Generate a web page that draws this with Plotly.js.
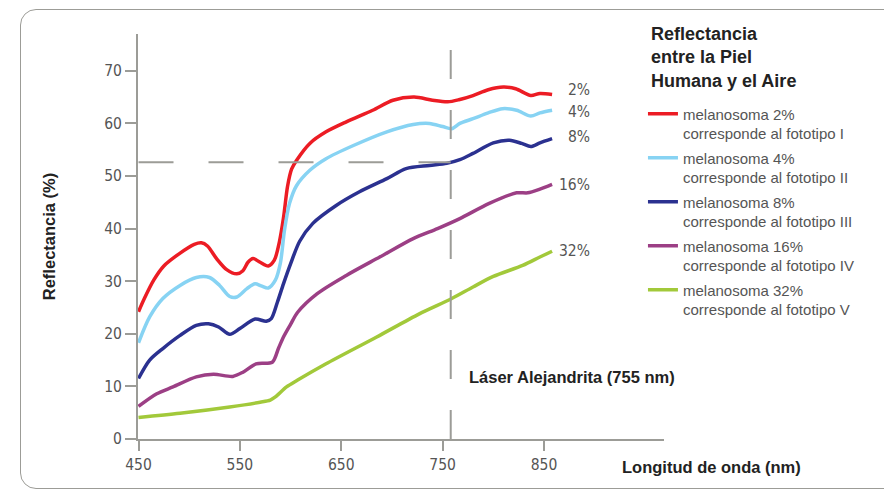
<!DOCTYPE html>
<html>
<head>
<meta charset="utf-8">
<script src="https://cdn.plot.ly/plotly-3.0.1.min.js"></script>
<style>
  html, body { margin: 0; padding: 0; background: #ffffff; }
  #wrap { position: relative; width: 884px; height: 493px; overflow: hidden; }
  #frame { position: absolute; left: 20px; top: 9px; width: 900px; height: 480px;
           border: 1.5px solid #9c9c97; border-radius: 16px; box-sizing: border-box; }
  #chart { position: absolute; left: 0; top: 0; width: 884px; height: 493px; }
</style>
</head>
<body>
<div id="wrap">
  <div id="frame"></div>
  <div id="chart"></div>
</div>
<script>
// ---- Data ----
const wl2  = [450, 456, 465, 475, 490, 505, 512, 518, 527, 537, 547, 553, 558, 563, 570, 578, 584, 589, 593, 597, 601, 606, 619, 635, 655, 681, 701, 722, 740, 755, 766, 780, 795, 810, 822, 837, 846, 858];
const r2   = [24.2, 26.8, 30.2, 32.9, 35.2, 37.0, 37.3, 36.7, 34.3, 32.2, 31.4, 32.0, 33.6, 34.3, 33.6, 32.9, 34.0, 37.5, 42.0, 48.0, 51.3, 53.0, 56.2, 58.4, 60.3, 62.5, 64.4, 65.0, 64.4, 64.1, 64.5, 65.3, 66.4, 66.9, 66.6, 65.3, 65.7, 65.5];

const wl4  = [450, 461, 474, 491, 507, 520, 530, 540, 547, 557, 565, 571, 578, 585, 590, 594, 599, 606, 619, 635, 662, 695, 721, 737, 750, 759, 767, 780, 795, 809, 823, 837, 846, 858];
const r4   = [18.3, 23.2, 26.7, 29.2, 30.7, 30.7, 29.2, 27.1, 27.0, 28.6, 29.5, 29.1, 28.7, 30.2, 33.5, 39.7, 44.8, 48.2, 51.1, 53.3, 55.8, 58.4, 59.8, 60.0, 59.4, 59.0, 60.0, 60.9, 62.0, 62.8, 62.5, 61.4, 62.0, 62.5];

const wl8  = [450, 461, 474, 491, 507, 519, 529, 540, 550, 565, 576, 581, 587, 593, 600, 609, 622, 645, 668, 695, 714, 737, 754, 767, 780, 800, 816, 828, 837, 846, 858];
const r8   = [11.5, 15.0, 17.2, 19.7, 21.6, 21.9, 21.3, 19.9, 21.0, 22.8, 22.4, 22.9, 26.0, 29.5, 33.3, 37.6, 41.0, 44.4, 47.0, 49.5, 51.4, 52.0, 52.4, 53.1, 54.3, 56.3, 56.8, 56.2, 55.6, 56.3, 57.1];

const wl16 = [450, 468, 484, 507, 524, 543, 553, 566, 582, 588, 593, 600, 607, 626, 655, 688, 721, 745, 767, 796, 823, 834, 846, 858];
const r16  = [6.2, 8.6, 9.9, 11.8, 12.3, 11.9, 12.7, 14.3, 14.6, 17.2, 19.4, 21.8, 24.1, 27.6, 31.1, 34.6, 38.1, 40.0, 41.9, 44.8, 46.8, 46.8, 47.5, 48.4];

const wl32 = [450, 491, 540, 570, 580, 585, 596, 607, 635, 685, 727, 759, 780, 800, 829, 846, 858];
const r32  = [4.1, 4.9, 6.1, 7.0, 7.4, 8.0, 9.9, 11.2, 14.3, 19.4, 23.8, 26.7, 28.9, 30.9, 33.0, 34.6, 35.7];

const seriesLabels = ['2%', '4%', '8%', '16%', '32%'];
const legendNames = [
  'melanosoma 2%<br>corresponde al fototipo I',
  'melanosoma 4%<br>corresponde al fototipo II',
  'melanosoma 8%<br>corresponde al fototipo III',
  'melanosoma 16%<br>corresponde al fototipo IV',
  'melanosoma 32%<br>corresponde al fototipo V'
];
const legendTitle = 'Reflectancia<br>entre la Piel<br>Humana y el Aire';
const xTicks = [450, 550, 650, 750, 850];
const yTicks = [0, 10, 20, 30, 40, 50, 60, 70];
const laserNm = 758;          // drawn position of the laser marker line
const laserReflect = 52.6;    // horizontal guide level
const laserLabel = 'Láser Alejandrita (755 nm)';

// ---- Styles ----
const colors = ['#ec1c24', '#87d3f3', '#2b3190', '#9c3f85', '#a2c93a'];
const labelYShift = [4, -2, 2, -1, 0];
const axisColor = '#9c9c97';
const cond = '"DejaVu Sans Condensed", "Liberation Sans Narrow", sans-serif';
const sans = '"Liberation Sans", Arial, sans-serif';

const xs = [wl2, wl4, wl8, wl16, wl32];
const ys = [r2, r4, r8, r16, r32];

const traces = xs.map((x, i) => ({
  type: 'scatter', mode: 'lines',
  x: x, y: ys[i],
  name: legendNames[i],
  legendgroup: 'g' + i,
  line: { color: colors[i], width: 3.5, shape: 'spline', smoothing: 0.8 },
  hoverinfo: 'x+y'
}));

const annotations = xs.map((x, i) => ({
  x: x[x.length - 1], y: ys[i][ys[i].length - 1],
  xref: 'x', yref: 'y', text: seriesLabels[i], showarrow: false,
  xanchor: 'right', yanchor: 'middle', xshift: 40, yshift: labelYShift[i],
  font: { family: cond, size: 15.5, color: '#555555' }
}));
annotations.push({
  x: laserNm, y: 11.8, xref: 'x', yref: 'y', text: '<b>' + laserLabel + '</b>',
  showarrow: false, xanchor: 'left', yanchor: 'middle', xshift: 16,
  font: { family: sans, size: 16.5, color: '#222222' }
});
annotations.push({
  x: 0.916, y: -0.069, xref: 'paper', yref: 'paper', text: '<b>Longitud de onda (nm)</b>',
  showarrow: false, xanchor: 'left', yanchor: 'middle',
  font: { family: sans, size: 16.5, color: '#222222' }
});
annotations.push({
  x: 0.971, y: 1.03, xref: 'paper', yref: 'paper', text: '<b>' + legendTitle + '</b>',
  showarrow: false, xanchor: 'left', yanchor: 'top', align: 'left',
  font: { family: sans, size: 18, color: '#222222' }
});

const shapes = [
  { type: 'line', xref: 'x', yref: 'y', x0: laserNm, x1: laserNm, y0: 0, y1: 74.1,
    line: { color: axisColor, width: 2, dash: '29px,31px' } },
  { type: 'line', xref: 'x', yref: 'y', x0: 450, x1: laserNm, y0: laserReflect, y1: laserReflect,
    line: { color: axisColor, width: 2, dash: '35px,35px' } }
];

const layout = {
  width: 884, height: 493,
  margin: { l: 138, r: 220, t: 34, b: 54 },
  paper_bgcolor: 'rgba(0,0,0,0)', plot_bgcolor: 'rgba(0,0,0,0)',
  showlegend: true,
  legend: {
    x: 0.960, xanchor: 'left', y: 0.843, yanchor: 'top',
    bgcolor: 'rgba(0,0,0,0)', borderwidth: 0, maxheight: 480,
    font: { family: sans, size: 15, color: '#555555' },
    tracegroupgap: 2, valign: 'top'
  },
  xaxis: {
    range: [449.5, 968.4], tickvals: xTicks, ticktext: xTicks.map(String),
    showline: true, linecolor: axisColor, linewidth: 2,
    ticks: 'outside', ticklen: 10, tickwidth: 2, tickcolor: axisColor,
    showgrid: false, zeroline: false,
    tickfont: { family: cond, size: 15.5, color: '#555555' }
  },
  yaxis: {
    range: [0, 77], tickvals: yTicks, ticktext: yTicks.map(String),
    showline: true, linecolor: axisColor, linewidth: 2,
    ticks: 'outside', ticklen: 11, tickwidth: 2, tickcolor: axisColor,
    showgrid: false, zeroline: false,
    tickfont: { family: cond, size: 15.5, color: '#555555' },
    title: { text: '<b>Reflectancia (%)</b>', standoff: 44,
             font: { family: sans, size: 16.5, color: '#222222' } }
  },
  annotations: annotations,
  shapes: shapes
};

Plotly.newPlot('chart', traces, layout, { displayModeBar: false, responsive: false });
</script>
</body>
</html>
